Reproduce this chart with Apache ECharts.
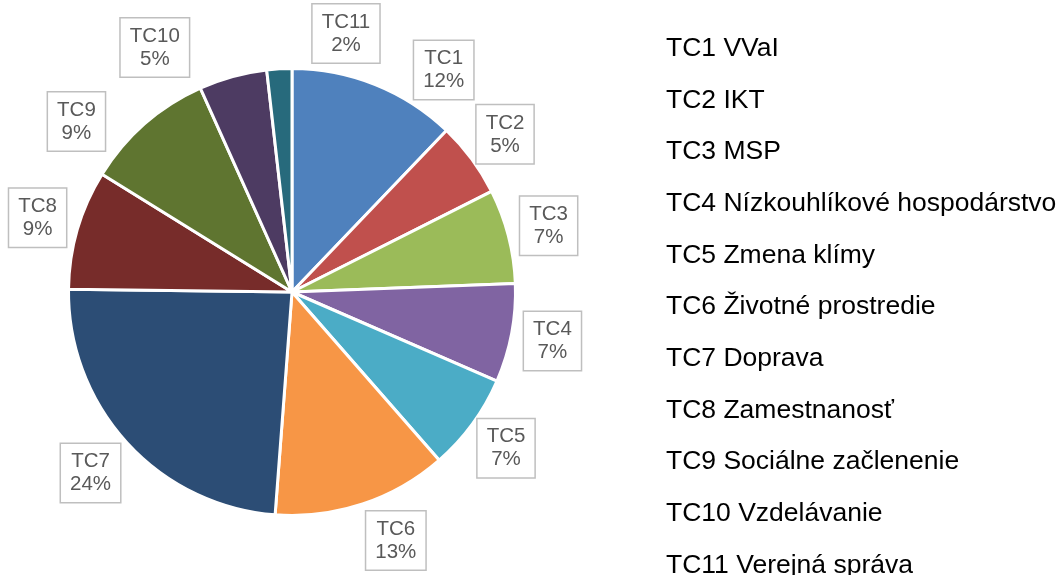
<!DOCTYPE html>
<html>
<head>
<meta charset="utf-8">
<script src="https://cdn.jsdelivr.net/npm/echarts@6/dist/echarts.min.js"></script>
<style>
  html, body { margin: 0; padding: 0; background: #fff; }
  #chart { width: 1062px; height: 575px; }
</style>
</head>
<body>
<div id="chart"></div>
<script>
const codes = ['TC1', 'TC2', 'TC3', 'TC4', 'TC5', 'TC6', 'TC7', 'TC8', 'TC9', 'TC10', 'TC11']
const names = [
  'VVaI', 'IKT', 'MSP', 'Nízkouhlíkové hospodárstvo', 'Zmena klímy',
  'Životné prostredie', 'Doprava', 'Zamestnanosť', 'Sociálne začlenenie',
  'Vzdelávanie', 'Verejná správa',
]
const shares = [12.1, 5.4, 6.8, 7.1, 7.0, 12.6, 23.9, 8.6, 9.4, 4.9, 1.8]

const colors = [
  '#4f81bd', '#c0504d', '#9bbb59', '#8064a2', '#4bacc6', '#f79646',
  '#2c4d75', '#772c2a', '#5f7530', '#4d3b62', '#276a7c',
]

// pie geometry
const cx = 292
const cy = 292
const labelRadius = 265
// nudges so the top labels don't collide (like the source chart)
const labelShift = { TC1: [53, 24], TC11: [69, 6], TC10: [-67, 11], TC9: [-41, 29], TC6: [20, -3], TC7: [-6, 2] }

const total = shares.reduce((a, b) => a + b, 0)
const midAngles = []
let acc = 0
shares.forEach((v) => {
  midAngles.push(((acc + v / 2) / total) * Math.PI * 2)
  acc += v
})

const chart = echarts.init(document.getElementById('chart'))

const option = {
  animation: false,
  color: colors,
  legend: {
    orient: 'vertical',
    left: 660,
    top: 35,
    height: 560,
    padding: 0,
    itemWidth: 0,
    itemHeight: 0,
    itemGap: 24.7,
    icon: 'rect',
    selectedMode: false,
    data: codes.map((c, i) => c + ' ' + names[i]),
    textStyle: {
      fontFamily: 'Liberation Sans, Arial, sans-serif',
      fontSize: 26.5,
      color: '#000',
    },
  },
  series: [
    {
      type: 'pie',
      center: [cx, cy],
      radius: 223.5,
      startAngle: 90,
      clockwise: true,
      avoidLabelOverlap: false,
      itemStyle: {
        borderColor: '#fff',
        borderWidth: 3,
      },
      emphasis: { disabled: true },
      labelLine: { show: false },
      label: {
        show: true,
        position: 'outside',
        formatter: (p) => p.name.split(' ')[0] + '\n' + Math.round(p.percent) + '%',
        fontFamily: 'Liberation Sans, Arial, sans-serif',
        fontSize: 20.5,
        lineHeight: 23,
        color: '#595959',
        backgroundColor: '#fff',
        borderColor: '#bfbfbf',
        borderWidth: 1.5,
        padding: [6, 9],
        align: 'center',
      },
      labelLayout: (params) => {
        const i = params.dataIndex
        const a = midAngles[i]
        const s = labelShift[codes[i]] || [0, 0]
        return {
          x: cx + labelRadius * Math.sin(a) + s[0],
          y: cy - labelRadius * Math.cos(a) + s[1],
          align: 'center',
          verticalAlign: 'middle',
        }
      },
      data: shares.map((v, i) => ({ name: codes[i] + ' ' + names[i], value: v })),
    },
  ],
}

chart.setOption(option)
</script>
</body>
</html>
